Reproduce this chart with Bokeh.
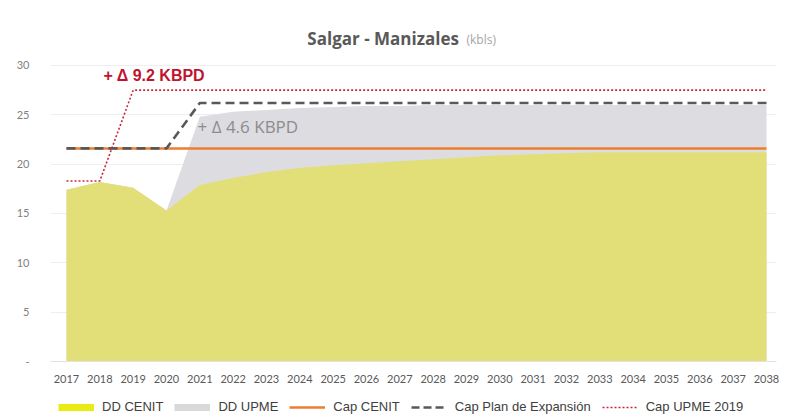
from bokeh.plotting import figure
from bokeh.models import Range1d, FixedTicker, Legend, LegendItem, Label
from bokeh.layouts import column
from bokeh.embed import file_html
from bokeh.resources import INLINE

# ---------------- data ----------------
years = [2017, 2018, 2019, 2020, 2021, 2022, 2023, 2024, 2025, 2026, 2027,
         2028, 2029, 2030, 2031, 2032, 2033, 2034, 2035, 2036, 2037, 2038]
dd_cenit = [17.4, 18.2, 17.6, 15.3, 17.9, 18.6, 19.2, 19.6, 19.9, 20.1, 20.3,
            20.5, 20.7, 20.9, 21.0, 21.1, 21.2, 21.2, 21.2, 21.2, 21.2, 21.2]
dd_upme = [17.4, 18.2, 17.6, 15.3, 24.8, 25.3, 25.5, 25.7, 25.8, 25.9, 25.9,
           26.0, 26.0, 26.0, 26.0, 26.0, 26.0, 26.0, 26.0, 26.0, 26.0, 26.0]
cap_cenit = [21.6, 21.6, 21.6, 21.6, 21.6, 21.6, 21.6, 21.6, 21.6, 21.6, 21.6,
             21.6, 21.6, 21.6, 21.6, 21.6, 21.6, 21.6, 21.6, 21.6, 21.6, 21.6]
cap_plan = [21.6, 21.6, 21.6, 21.6, 26.2, 26.2, 26.2, 26.2, 26.2, 26.2, 26.2,
            26.2, 26.2, 26.2, 26.2, 26.2, 26.2, 26.2, 26.2, 26.2, 26.2, 26.2]
cap_upme = [18.3, 18.3, 27.5, 27.5, 27.5, 27.5, 27.5, 27.5, 27.5, 27.5, 27.5,
            27.5, 27.5, 27.5, 27.5, 27.5, 27.5, 27.5, 27.5, 27.5, 27.5, 27.5]
y_ticks = [0, 5, 10, 15, 20, 25, 30]
y_tick_labels = ["-", "5", "10", "15", "20", "25", "30"]
series_names = ["DD CENIT", "DD UPME", "Cap CENIT", "Cap Plan de Expansión", "Cap UPME 2019"]
title_main = "Salgar - Manizales"
title_unit = "(kbls)"
note_upme = "+ Δ 9.2 KBPD"
note_plan = "+ Δ 4.6 KBPD"

# ---------------- main figure ----------------
p = figure(width=788, height=390, output_backend="svg", toolbar_location=None,
           x_range=Range1d(2016.52, 2038.3), y_range=Range1d(0, 34.56),
           min_border_left=50, min_border_right=12, min_border_top=20,
           min_border_bottom=29)
p.outline_line_color = None
p.background_fill_color = "white"
p.border_fill_color = "white"

p.xaxis.ticker = FixedTicker(ticks=years)
p.xaxis.major_label_text_font = "Lato"
p.xaxis.major_label_text_font_size = "11px"
p.xaxis.major_label_text_color = "#595959"
p.xaxis.major_label_standoff = 7
p.xaxis.major_tick_line_color = None
p.xaxis.minor_tick_line_color = None
p.xaxis.axis_line_color = "#E3E3E3"

p.yaxis.ticker = FixedTicker(ticks=y_ticks)
p.yaxis.major_label_overrides = {t: s for t, s in zip(y_ticks, y_tick_labels)}
p.yaxis.major_label_text_font = "Lato"
p.yaxis.major_label_text_font_size = "11px"
p.yaxis.major_label_text_color = "#7F7F7F"
p.yaxis.major_label_standoff = 15
p.yaxis.major_tick_line_color = None
p.yaxis.minor_tick_line_color = None
p.yaxis.axis_line_color = None

p.xgrid.grid_line_color = None
p.ygrid.grid_line_color = "#EEEEEE"
p.ygrid.grid_line_width = 1

# areas
p.varea(x=years, y1=0, y2=dd_upme, fill_color="#DCDCE1")
p.varea(x=years, y1=0, y2=dd_cenit, fill_color="#E2DF79")

# lines
p.line(years, cap_cenit, line_color="#ED7D31", line_width=2.5)
p.line(years, cap_plan, line_color="#595959", line_width=2.6, line_dash="9 5")
p.line(years, cap_upme, line_color="#C8283C", line_width=1.6, line_dash="2 2")

# title & notes
p.add_layout(Label(x=2026.5, y=32.7, text=title_main, text_align="center",
                   text_baseline="middle", text_font="Open Sans",
                   text_font_style="bold", text_font_size="17px",
                   text_color="#595959"))
p.add_layout(Label(x=2029.0, y=32.6, text=title_unit, text_align="left",
                   text_baseline="middle", text_font="Open Sans",
                   text_font_size="12px", text_color="#A6A6A6"))
p.add_layout(Label(x=2018.11, y=29.0, text=note_upme, text_align="left",
                   text_baseline="middle", text_font="Liberation Sans",
                   text_font_style="bold", text_font_size="16px",
                   text_color="#C0142E"))
p.add_layout(Label(x=2020.93, y=23.8, text=note_plan, text_align="left",
                   text_baseline="middle", text_font="Open Sans",
                   text_font_size="17px", text_color="#8C8C8C"))

# ---------------- legend strip ----------------
lg = figure(width=788, height=29, output_backend="svg", toolbar_location=None,
            x_range=Range1d(0, 1), y_range=Range1d(0, 1),
            x_axis_type=None, y_axis_type=None,
            min_border_left=0, min_border_right=0, min_border_top=0,
            min_border_bottom=0)
lg.outline_line_color = None
lg.xgrid.grid_line_color = None
lg.ygrid.grid_line_color = None

# one-point proxies (a single point draws no line; they only feed the legend)
lg_cenit = lg.line([years[0]], [dd_cenit[0]], line_color="#EBEB14", line_width=7)
lg_upme = lg.line([years[0]], [dd_upme[0]], line_color="#D9D9D9", line_width=7)
lg_capc = lg.line([years[0]], [cap_cenit[0]], line_color="#ED7D31", line_width=2.5)
lg_plan = lg.line([years[0]], [cap_plan[0]], line_color="#595959", line_width=2.5,
                  line_dash="8 4")
lg_upcap = lg.line([years[0]], [cap_upme[0]], line_color="#C8283C", line_width=1.3,
                   line_dash="2 2")

legend = Legend(items=[LegendItem(label=series_names[0], renderers=[lg_cenit]),
                       LegendItem(label=series_names[1], renderers=[lg_upme]),
                       LegendItem(label=series_names[2], renderers=[lg_capc]),
                       LegendItem(label=series_names[3], renderers=[lg_plan]),
                       LegendItem(label=series_names[4], renderers=[lg_upcap])],
                orientation="horizontal", location=(8, 5),
                glyph_width=36, glyph_height=8, label_height=14,
                label_standoff=8, spacing=11, padding=0, margin=0,
                border_line_color=None, background_fill_alpha=0,
                label_text_font="Liberation Sans", label_text_font_size="13px",
                label_text_color="#404040")
lg.add_layout(legend, "center")

layout = column(p, lg, spacing=0)
open("out.html", "w").write(file_html(layout, INLINE))
